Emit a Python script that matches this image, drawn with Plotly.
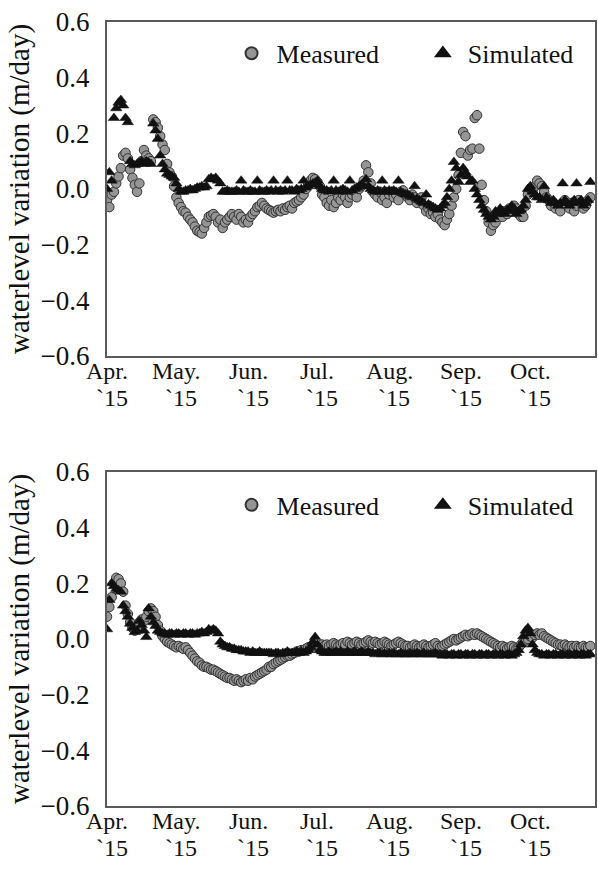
import pandas as pd
import plotly.graph_objects as go
from plotly.subplots import make_subplots

# Daily series, 1 Apr 2015 onward
days = pd.date_range("2015-04-01", periods=210, freq="D")

top_measured = [
    -0.04, -0.065, -0.02, -0.01, 0.02, 0.045, 0.075, 0.12, 0.13, 0.11,
    0.07, 0.04, 0.015, -0.01, 0.02, 0.10, 0.14, 0.12, 0.11, 0.10,
    0.25, 0.24, 0.22, 0.19, 0.16, 0.14, 0.09, 0.06, 0.045, 0.01,
    -0.03, -0.05, -0.065, -0.08, -0.085, -0.10, -0.11, -0.12, -0.135, -0.15,
    -0.155, -0.16, -0.14, -0.12, -0.10, -0.095, -0.09, -0.10, -0.12, -0.11,
    -0.14, -0.12, -0.11, -0.10, -0.09, -0.10, -0.11, -0.09, -0.10, -0.12,
    -0.11, -0.12, -0.10, -0.09, -0.08, -0.065, -0.06, -0.05, -0.06, -0.07,
    -0.075, -0.08, -0.085, -0.08, -0.075, -0.08, -0.07, -0.075, -0.065, -0.06,
    -0.07, -0.05, -0.045, -0.04, -0.03, -0.02, 0.0, 0.02, 0.03, 0.04,
    0.035, 0.025, 0.01, -0.02, -0.03, -0.05, -0.06, -0.04, -0.065, -0.05,
    -0.03, -0.04, -0.02, -0.03, -0.05, -0.03, -0.02, -0.01, -0.03, 0.0,
    0.01, 0.03, 0.085, 0.06, 0.02, -0.01, -0.02, -0.03, -0.01, -0.04,
    -0.03, -0.05, -0.02, -0.01, -0.03, -0.02, -0.04, -0.01, -0.005, -0.02,
    -0.03, -0.04, -0.02, -0.03, -0.05, -0.04, -0.03, -0.06, -0.08, -0.07,
    -0.09, -0.085, -0.10, -0.09, -0.11, -0.12, -0.13, -0.11, -0.09, -0.06,
    -0.03, 0.0, 0.05, 0.13, 0.205, 0.19, 0.12, 0.14, 0.145, 0.255,
    0.265, 0.145, 0.015, -0.04, -0.08, -0.12, -0.15, -0.13, -0.12, -0.10,
    -0.09, -0.10, -0.08, -0.09, -0.07, -0.08, -0.06, -0.07, -0.09, -0.10,
    -0.10, -0.06, -0.02, 0.0, -0.01, 0.01, 0.03, 0.02, 0.01, -0.01,
    -0.03, -0.04, -0.06, -0.05, -0.07, -0.06, -0.08, -0.05, -0.04, -0.06,
    -0.07, -0.05, -0.08, -0.06, -0.04, -0.05, -0.07, -0.06, -0.04, -0.03,
]

top_simulated = [
    0.0, 0.06, 0.03, 0.255, 0.29, 0.31, 0.32, 0.30, 0.255, 0.24,
    0.10, 0.09, 0.085, 0.09, 0.095, 0.10, 0.09, 0.10, 0.095, 0.09,
    0.235, 0.21, 0.18, 0.12, 0.09, 0.07, 0.055, 0.05, 0.045, 0.04,
    0.02, 0.0, -0.01, -0.01, -0.005, -0.005, 0.0, -0.005, 0.0, 0.005,
    0.005, 0.01, 0.005, 0.01, 0.035, 0.04, 0.035, 0.04, 0.03, 0.02,
    -0.01, -0.01, -0.005, -0.01, -0.01, -0.01, -0.005, -0.01, 0.03, -0.005,
    -0.01, -0.01, -0.005, -0.01, -0.01, 0.03, -0.005, -0.01, -0.01, -0.005,
    -0.01, -0.005, 0.03, -0.005, -0.01, -0.005, -0.01, -0.005, 0.03, -0.005,
    -0.005, -0.01, 0.0, -0.005, 0.0, 0.03, 0.005, 0.01, 0.015, 0.02,
    0.02, 0.03, 0.01, 0.0, -0.005, -0.005, -0.01, -0.005, 0.03, -0.005,
    -0.01, -0.005, 0.0, -0.005, -0.01, 0.03, -0.005, 0.0, 0.005, 0.01,
    0.015, 0.01, 0.035, 0.01, 0.0, -0.005, -0.01, -0.005, -0.01, 0.03,
    -0.005, -0.01, -0.005, -0.01, -0.005, -0.01, 0.03, -0.01, -0.015, -0.02,
    -0.02, -0.025, -0.03, 0.01, -0.035, -0.04, -0.045, -0.05, -0.02, -0.055,
    -0.06, -0.065, -0.07, -0.075, -0.07, -0.06, -0.05, -0.03, 0.0, 0.03,
    0.097, 0.075, 0.025, 0.05, 0.075, 0.06, 0.045, 0.025, 0.03, 0.0,
    -0.02, -0.04, -0.06, -0.075, -0.09, -0.10, -0.11, -0.10, -0.08, -0.09,
    -0.07, -0.08, -0.09, -0.075, -0.08, -0.06, -0.07, -0.09, -0.08, -0.075,
    -0.06, -0.04, 0.0, 0.01, -0.01, -0.02, -0.03, -0.03, -0.04, 0.01,
    -0.03, -0.04, -0.05, -0.04, -0.05, -0.06, -0.05, 0.02, -0.04, -0.05,
    -0.06, -0.05, -0.04, 0.02, -0.05, -0.04, -0.06, -0.05, -0.04, 0.025,
]

bottom_measured = [
    0.08, 0.115, 0.15, 0.20, 0.22, 0.215, 0.20, 0.17, 0.12, 0.09,
    0.06, 0.04, 0.03, 0.04, 0.06, 0.07, 0.065, 0.08, 0.10, 0.11,
    0.10, 0.08, 0.05, 0.03, 0.01, 0.0, -0.01, -0.015, -0.02, -0.025,
    -0.03, -0.025, -0.03, -0.035, -0.03, -0.04, -0.05, -0.06, -0.07, -0.08,
    -0.085, -0.095, -0.10, -0.10, -0.105, -0.11, -0.11, -0.115, -0.12, -0.125,
    -0.13, -0.135, -0.14, -0.14, -0.145, -0.15, -0.145, -0.15, -0.155, -0.15,
    -0.145, -0.15, -0.14, -0.145, -0.135, -0.13, -0.125, -0.12, -0.115, -0.11,
    -0.10, -0.10, -0.09, -0.085, -0.08, -0.075, -0.07, -0.065, -0.06, -0.06,
    -0.055, -0.05, -0.045, -0.045, -0.04, -0.04, -0.035, -0.03, -0.03, -0.025,
    -0.025, -0.03, -0.025, -0.02, -0.025, -0.02, -0.025, -0.02, -0.015, -0.02,
    -0.025, -0.02, -0.015, -0.02, -0.01, -0.015, -0.02, -0.015, -0.01, -0.015,
    -0.02, -0.015, -0.01, -0.005, -0.01, -0.015, -0.01, -0.015, -0.02, -0.015,
    -0.01, -0.015, -0.02, -0.025, -0.02, -0.015, -0.01, -0.015, -0.02, -0.025,
    -0.025, -0.03, -0.025, -0.02, -0.025, -0.03, -0.025, -0.02, -0.025, -0.03,
    -0.025, -0.02, -0.015, -0.025, -0.03, -0.025, -0.02, -0.015, -0.01, -0.005,
    0.0, -0.005, 0.0, 0.005, 0.01, 0.015, 0.01, 0.015, 0.02, 0.015,
    0.02, 0.015, 0.01, 0.005, 0.0, -0.005, -0.01, -0.015, -0.02, -0.025,
    -0.03, -0.025, -0.03, -0.035, -0.03, -0.025, -0.03, -0.035, -0.03, -0.02,
    -0.01, -0.005, 0.0, 0.01, 0.005, 0.015, 0.02, 0.015, 0.02, 0.01,
    0.005, 0.0, -0.005, -0.01, -0.015, -0.02, -0.02, -0.025, -0.02, -0.025,
    -0.03, -0.025, -0.03, -0.025, -0.03, -0.03, -0.025, -0.03, -0.03, -0.025,
]

bottom_simulated = [
    0.035, 0.14, 0.20, 0.19, 0.18, 0.175, 0.17, 0.12, 0.10, 0.08,
    0.055, 0.04, 0.025, 0.03, 0.065, 0.05, 0.03, 0.007, 0.11, 0.08,
    0.06, 0.047, 0.03, 0.025, 0.02, 0.02, 0.015, 0.02, 0.02, 0.015,
    0.02, 0.02, 0.015, 0.02, 0.02, 0.015, 0.02, 0.02, 0.015, 0.02,
    0.02, 0.025, 0.02, 0.025, 0.035, 0.03, 0.035, 0.03, 0.02, -0.01,
    -0.02, -0.025, -0.03, -0.03, -0.035, -0.035, -0.04, -0.04, -0.04, -0.045,
    -0.045, -0.045, -0.05, -0.045, -0.05, -0.05, -0.045, -0.05, -0.05, -0.05,
    -0.05, -0.05, -0.055, -0.05, -0.05, -0.055, -0.05, -0.05, -0.045, -0.05,
    -0.05, -0.05, -0.045, -0.05, -0.045, -0.05, -0.045, -0.04, -0.03, -0.01,
    0.007, -0.02, -0.04, -0.045, -0.05, -0.05, -0.045, -0.05, -0.05, -0.045,
    -0.05, -0.045, -0.05, -0.05, -0.045, -0.05, -0.05, -0.045, -0.05, -0.05,
    -0.045, -0.05, -0.05, -0.045, -0.05, -0.05, -0.055, -0.05, -0.05, -0.055,
    -0.05, -0.055, -0.05, -0.055, -0.05, -0.055, -0.055, -0.05, -0.055, -0.055,
    -0.055, -0.05, -0.055, -0.055, -0.05, -0.055, -0.055, -0.05, -0.055, -0.055,
    -0.055, -0.055, -0.05, -0.055, -0.055, -0.06, -0.055, -0.055, -0.06, -0.055,
    -0.055, -0.06, -0.055, -0.055, -0.06, -0.055, -0.055, -0.06, -0.055, -0.055,
    -0.06, -0.055, -0.055, -0.06, -0.055, -0.055, -0.06, -0.055, -0.055, -0.06,
    -0.055, -0.055, -0.06, -0.055, -0.055, -0.06, -0.055, -0.05, -0.04, -0.02,
    0.01, 0.03, 0.04, 0.02, -0.02, -0.04, -0.05, -0.055, -0.055, -0.06,
    -0.055, -0.055, -0.06, -0.055, -0.055, -0.06, -0.055, -0.055, -0.06, -0.055,
    -0.055, -0.06, -0.055, -0.055, -0.06, -0.055, -0.055, -0.06, -0.055, -0.055,
]

month_ticks = ["2015-04-01", "2015-05-01", "2015-06-01", "2015-07-01",
               "2015-08-01", "2015-09-01", "2015-10-01"]
month_names = ["Apr.", "May.", "Jun.", "Jul.", "Aug.", "Sep.", "Oct."]
year_label = "`15"
y_ticks = [-0.6, -0.4, -0.2, 0.0, 0.2, 0.4, 0.6]
y_labels = ["\u22120.6", "\u22120.4", "\u22120.2", "0.0", "0.2", "0.4", "0.6"]

SERIF = "Times New Roman, Liberation Serif, serif"
INK = "#111111"
FS = 26
XFS = 24
measured_marker = dict(symbol="circle", size=9.5, color="#959595",
                       line=dict(color="#333333", width=1))
simulated_marker = dict(symbol="triangle-up", size=10, color=INK,
                        line=dict(color=INK, width=0.5))

fig = make_subplots(rows=2, cols=1, vertical_spacing=0.148)

# one single-entry legend per marker type and panel, so each can be placed freely
panels = [(1, top_measured, top_simulated, "legend", "legend2"),
          (2, bottom_measured, bottom_simulated, "legend3", "legend4")]
for row, meas, sim, leg_m, leg_s in panels:
    fig.add_trace(go.Scatter(x=days, y=meas, mode="markers", name="Measured",
                             marker=measured_marker, legend=leg_m,
                             showlegend=True), row=row, col=1)
    fig.add_trace(go.Scatter(x=days, y=sim, mode="markers", name="Simulated",
                             marker=simulated_marker, legend=leg_s,
                             showlegend=True), row=row, col=1)

axis_line = dict(showline=True, mirror=True, linecolor="#5a5a5a", linewidth=2,
                 showgrid=False, zeroline=False, ticks="")
for row in (1, 2):
    fig.update_xaxes(range=["2015-04-01", "2015-10-29"], tickvals=month_ticks,
                     showticklabels=False, row=row, col=1, **axis_line)
    fig.update_yaxes(range=[-0.6, 0.6], tickvals=y_ticks, ticktext=y_labels,
                     ticklabelstandoff=10,
                     tickfont=dict(family=SERIF, size=27, color=INK),
                     title=dict(text="waterlevel variation (m/day)",
                                font=dict(family=SERIF, size=29, color=INK),
                                standoff=2),
                     row=row, col=1, **axis_line)
    # two-line month labels under each panel
    yref = "y domain" if row == 1 else "y2 domain"
    xref = "x" if row == 1 else "x2"
    for t, name in zip(month_ticks, month_names):
        fig.add_annotation(x=t, y=0, xref=xref, yref=yref, text=name,
                           showarrow=False, yanchor="top", yshift=-1,
                           borderpad=0,
                           font=dict(family=SERIF, size=XFS, color=INK))
        fig.add_annotation(x=t, y=0, xref=xref, yref=yref, text=year_label,
                           showarrow=False, yanchor="top", yshift=-28,
                           xshift=5, borderpad=0,
                           font=dict(family=SERIF, size=XFS, color=INK))

legend_style = dict(xanchor="left", yanchor="middle", itemwidth=40,
                    font=dict(family=SERIF, size=FS, color=INK),
                    bgcolor="rgba(0,0,0,0)", itemsizing="constant")
fig.update_layout(
    width=598, height=870, showlegend=True,
    margin=dict(l=107, r=1, t=22, b=64),
    plot_bgcolor="white", paper_bgcolor="white",
    legend=dict(x=0.245, y=0.96, **legend_style),
    legend2=dict(x=0.637, y=0.96, **legend_style),
    legend3=dict(x=0.245, y=0.384, **legend_style),
    legend4=dict(x=0.637, y=0.384, **legend_style),
)

fig.write_html("out.html")
